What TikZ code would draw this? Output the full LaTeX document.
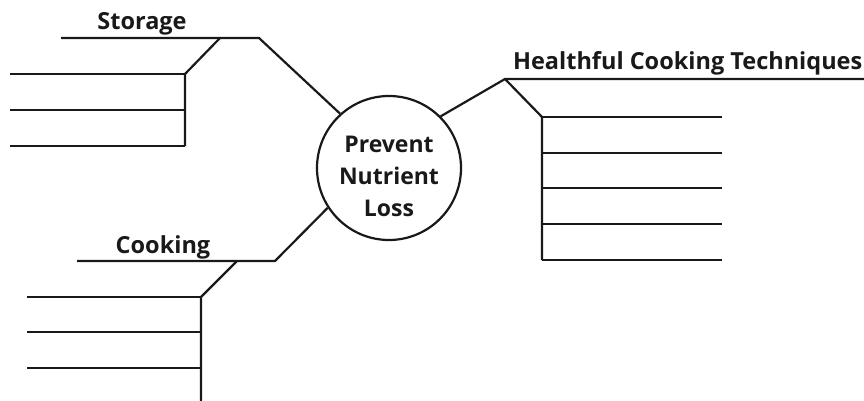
\documentclass[tikz,border=0pt]{standalone}
\usepackage{fontspec}
\setmainfont{Open Sans}
\usetikzlibrary{calc}

\newcommand\writelines[3]{% x from, x to, list of y
  \foreach \yy in {#3} {\draw (#1,\yy) -- (#2,\yy);}
}

\begin{document}
\begin{tikzpicture}[x=1pt,y=-1pt]
		\tikzstyle{every path}=[line width=2.2pt,color=black!90]
		\tikzstyle{TitleSty}=[font=\bfseries\fontsize{23.5}{27}\selectfont,inner sep=0pt]
		\tikzstyle{HubSty}=[circle,draw,minimum size=144pt,inner sep=0pt]
		\tikzstyle{HubText}=[font=\bfseries\fontsize{23}{32}\selectfont,align=center,inner sep=0pt]

\useasboundingbox (0,0) rectangle (864,401);

% centre
\node[HubSty] (hub) at (389,168) {};
\node[HubText,yshift=-8pt] at (hub) (hub_txt) {Prevent\\Nutrient\\Loss};

% storage
\coordinate (stor_knee) at (259,38);
\coordinate (stor_end) at (61,38);
\coordinate (stor_fork) at (220,38);
\coordinate (stor_top) at (185,74);
\coordinate (stor_bot) at (185,146);
\node[TitleSty,anchor=base] at (142,30) (stor_lbl) {Storage};
\draw (hub.132) -- (stor_knee) -- (stor_end);
\draw (stor_fork) -- (stor_top) -- (stor_bot);
\writelines{10}{185}{74,110,146}

% cooking techniques
\coordinate (tech_knee) at (505,79);
\coordinate (tech_end) at (864,79);
\coordinate (tech_top) at (542,117);
\coordinate (tech_bot) at (542,260);
\node[TitleSty,anchor=base west] at (512,70) (tech_lbl) {Healthful Cooking Techniques};
\draw (hub.45) -- (tech_knee) -- (tech_end);
\draw (tech_knee) -- (tech_top) -- (tech_bot);
\writelines{542}{722}{117,153,188,224,260}

% cooking
\coordinate (cook_knee) at (275,261);
\coordinate (cook_end) at (77,261);
\coordinate (cook_fork) at (237,261);
\coordinate (cook_top) at (201,297);
\coordinate (cook_bot) at (201,401);
\node[TitleSty,anchor=base] at (163,253) (cook_lbl) {Cooking};
\draw (hub.213) -- (cook_knee) -- (cook_end);
\draw (cook_fork) -- (cook_top) -- (cook_bot);
\writelines{27}{201}{297,332,368}

\end{tikzpicture}
\end{document}
